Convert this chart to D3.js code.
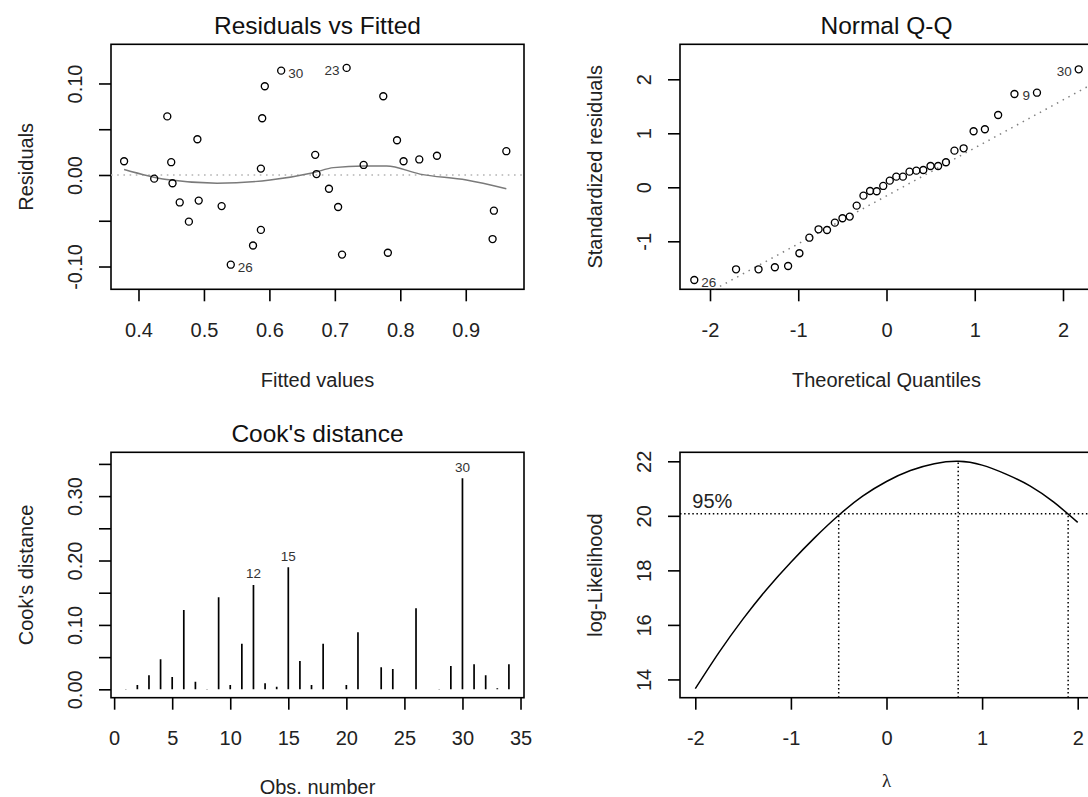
<!DOCTYPE html>
<html>
<head>
<meta charset="utf-8">
<script src="https://cdn.jsdelivr.net/npm/d3@7"></script>
<style>
  body { margin: 0; background: #fff; }
  svg { display: block; font-family: "Liberation Sans", Arial, sans-serif; }
</style>
</head>
<body>
<div id="chart"></div>
<script>
// Residuals vs Fitted
var fittedVals = [0.378, 0.424, 0.444, 0.450, 0.452, 0.463, 0.477, 0.490, 0.492, 0.527, 0.541,
  0.575, 0.587, 0.587, 0.589, 0.593, 0.618, 0.670, 0.672, 0.691, 0.705, 0.711, 0.718, 0.744,
  0.774, 0.781, 0.795, 0.805, 0.829, 0.856, 0.943, 0.941, 0.962];
var residVals = [0.015, -0.004, 0.064, 0.014, -0.009, -0.030, -0.051, 0.039, -0.028, -0.034, -0.098,
  -0.077, -0.060, 0.007, 0.062, 0.097, 0.114, 0.022, 0.001, -0.015, -0.035, -0.087, 0.117, 0.011,
  0.086, -0.085, 0.038, 0.015, 0.017, 0.021, -0.039, -0.070, 0.026];
var residLabelIdx = [10, 16, 22];
var residLabelTxt = ["26", "30", "23"];
var smoothFit = [0.378, 0.443, 0.520, 0.601, 0.667, 0.698, 0.744, 0.779, 0.830, 0.901, 0.962];
var smoothRes = [0.006, -0.005, -0.009, -0.0055, 0.0025, 0.008, 0.0098, 0.0098, 0.001, -0.0055, -0.015];

// Normal Q-Q
var theoQuant = [-2.178, -1.705, -1.450, -1.265, -1.115, -0.987, -0.874, -0.770, -0.674, -0.585,
  -0.499, -0.417, -0.338, -0.261, -0.186, -0.111, -0.037, 0.037, 0.111, 0.186, 0.261, 0.338,
  0.417, 0.499, 0.585, 0.674, 0.770, 0.874, 0.987, 1.115, 1.265, 1.450, 1.705, 2.178];
var stdResid = [-1.717, -1.519, -1.519, -1.481, -1.457, -1.222, -0.933, -0.778, -0.790, -0.655,
  -0.574, -0.543, -0.340, -0.155, -0.068, -0.074, 0.025, 0.123, 0.197, 0.197, 0.290, 0.308,
  0.321, 0.395, 0.395, 0.463, 0.679, 0.722, 1.037, 1.074, 1.339, 1.728, 1.752, 2.185];
var qqLabelIdx = [0, 32, 33];
var qqLabelTxt = ["26", "9", "30"];
var qqIntercept = -0.159, qqSlope = 0.888;

// Cook's distance, obs 1..34
var cookVals = [0.0004, 0.0067, 0.0218, 0.0466, 0.0191, 0.1232, 0.0119, 0.0004, 0.1429, 0.0067,
  0.0709, 0.1621, 0.0093, 0.0040, 0.1896, 0.0440, 0.0067, 0.0709, 0.0003, 0.0067, 0.0886, 0.0002,
  0.0342, 0.0316, 0.0003, 0.1258, 0.0002, 0.0004, 0.0362, 0.3278, 0.0388, 0.0218, 0.0016, 0.0388];
var cookLabelObs = [12, 15, 30];

// Box-Cox profile log-likelihood
var lambdaVals = [-2, -1.75, -1.5, -1.25, -1, -0.75, -0.5, -0.25, 0, 0.25, 0.5, 0.75, 1, 1.25, 1.5, 1.75, 2];
var logLik = [13.66, 15.0, 16.22, 17.32, 18.30, 19.20, 20.02, 20.72, 21.26, 21.66, 21.91, 22.0,
  21.86, 21.53, 21.10, 20.50, 19.76];
var ci95 = 20.08;
var lambdaMarks = [-0.5, 0.75, 1.9];
var lambdaBest = 0.75;

var svg = d3.select("#chart").append("svg")
  .attr("width", 1088)
  .attr("height", 797);

var leftCols = [111, 524], rightCols = [680, 1093];
var topRows = [289.3, 44.3], botRows = [697.7, 452.3];
var clipN = 0;

// R-style frame: box, outward ticks, rotated y tick labels, titles
function drawFrame(x, y, o) {
  var x0 = x.range()[0], x1 = x.range()[1];
  var y0 = y.range()[0], y1 = y.range()[1];
  var g = svg.append("g");

  var xa = g.append("g")
    .attr("transform", "translate(0," + y0 + ")")
    .call(d3.axisBottom(x).tickValues(o.xTicks).tickSize(12).tickFormat(o.xFmt));
  xa.select(".domain").remove();
  xa.attr("font-size", 20).attr("font-family", null);
  xa.selectAll("line").attr("stroke-width", 1.6);
  xa.selectAll("text").attr("y", 47.4).attr("dy", null).attr("fill", "#222");

  var ya = g.append("g")
    .attr("transform", "translate(" + x0 + ",0)")
    .call(d3.axisLeft(y).tickValues(o.yTicks).tickSize(12).tickFormat(o.yFmt));
  ya.select(".domain").remove();
  ya.attr("font-size", 20).attr("font-family", null);
  ya.selectAll("line").attr("stroke-width", 1.6);
  ya.selectAll("text")
    .attr("x", null).attr("dy", null)
    .attr("text-anchor", "middle")
    .attr("fill", "#222")
    .attr("transform", "translate(-29,0) rotate(-90)");

  g.append("rect")
    .attr("x", x0).attr("y", y1)
    .attr("width", x1 - x0).attr("height", y0 - y1)
    .attr("fill", "none").attr("stroke", "#000").attr("stroke-width", 1.6);

  g.append("text")
    .attr("x", (x0 + x1) / 2).attr("y", y1 - 10.5)
    .attr("text-anchor", "middle").attr("font-size", 24.5).attr("fill", "#111")
    .text(o.title);

  g.append("text")
    .attr("x", (x0 + x1) / 2).attr("y", Math.min(y0 + 97.7, o.xlabMaxY || 794))
    .attr("text-anchor", "middle")
    .attr("font-size", o.xlabSize || 20)
    .attr("font-family", o.xlabFont || null)
    .attr("fill", "#222")
    .text(o.xlab);

  g.append("text")
    .attr("transform", "translate(" + (x0 - 78.3) + "," + ((y0 + y1) / 2) + ") rotate(-90)")
    .attr("text-anchor", "middle").attr("font-size", 20).attr("fill", "#222")
    .text(o.ylab);

  clipN++;
  svg.append("clipPath").attr("id", "clip" + clipN)
    .append("rect")
    .attr("x", x0).attr("y", y1)
    .attr("width", x1 - x0).attr("height", y0 - y1);

  return {
    inner: g.append("g").attr("clip-path", "url(#clip" + clipN + ")"),
    outer: g
  };
}

function fmt1(d) { return d3.format(".1f")(d); }
function fmtInt(d) { return d3.format("d")(d).replace("−", "-"); }

// ---- Residuals vs Fitted ----
var x1s = d3.scaleLinear().domain([0.358, 0.989]).range(leftCols);
var y1s = d3.scaleLinear().domain([-0.1249, 0.1428]).range(topRows);
var p1 = drawFrame(x1s, y1s, {
  title: "Residuals vs Fitted", xlab: "Fitted values", ylab: "Residuals",
  xTicks: [0.4, 0.5, 0.6, 0.7, 0.8, 0.9], xFmt: fmt1,
  yTicks: [-0.10, -0.05, 0, 0.05, 0.10],
  yFmt: function(d) { return Math.abs(d) === 0.05 ? "" : d3.format(".2f")(d).replace("−", "-"); }
});

p1.inner.append("line")
  .attr("x1", leftCols[0]).attr("x2", leftCols[1])
  .attr("y1", y1s(0)).attr("y2", y1s(0))
  .attr("stroke", "#b4b4b4").attr("stroke-width", 1.6)
  .attr("stroke-dasharray", "1.6,4.6");

p1.inner.append("path")
  .datum(smoothFit.map(function(f, i) { return [f, smoothRes[i]]; }))
  .attr("fill", "none").attr("stroke", "#7a7a7a").attr("stroke-width", 1.4)
  .attr("d", d3.line()
    .x(function(d) { return x1s(d[0]); })
    .y(function(d) { return y1s(d[1]); })
    .curve(d3.curveMonotoneX));

p1.inner.selectAll(".pt")
  .data(fittedVals)
  .enter().append("circle")
  .attr("cx", function(d) { return x1s(d); })
  .attr("cy", function(d, i) { return y1s(residVals[i]); })
  .attr("r", 3.5)
  .attr("fill", "none").attr("stroke", "#000").attr("stroke-width", 1.35);

var resMid = (fittedVals[0] + fittedVals[fittedVals.length - 1]) / 2;
p1.outer.selectAll(".lab")
  .data(residLabelIdx)
  .enter().append("text")
  .attr("x", function(d) { return x1s(fittedVals[d]) + (fittedVals[d] > resMid ? -7 : 7); })
  .attr("y", function(d) { return y1s(residVals[d]) + 7; })
  .attr("text-anchor", function(d) { return fittedVals[d] > resMid ? "end" : "start"; })
  .attr("font-size", 13.5).attr("fill", "#333")
  .text(function(d, i) { return residLabelTxt[i]; });

// ---- Normal Q-Q ----
var x2s = d3.scaleLinear().domain([-2.34, 2.34]).range(rightCols);
var y2s = d3.scaleLinear().domain([-1.889, 2.648]).range(topRows);
var p2 = drawFrame(x2s, y2s, {
  title: "Normal Q-Q", xlab: "Theoretical Quantiles", ylab: "Standardized residuals",
  xTicks: [-2, -1, 0, 1, 2], xFmt: fmtInt,
  yTicks: [-1, 0, 1, 2], yFmt: fmtInt
});

p2.inner.append("line")
  .attr("x1", x2s(-2.34)).attr("x2", x2s(2.34))
  .attr("y1", y2s(qqIntercept + qqSlope * -2.34))
  .attr("y2", y2s(qqIntercept + qqSlope * 2.34))
  .attr("stroke", "#808080").attr("stroke-width", 1.5)
  .attr("stroke-dasharray", "1.5,5");

p2.inner.selectAll(".pt")
  .data(theoQuant)
  .enter().append("circle")
  .attr("cx", function(d) { return x2s(d); })
  .attr("cy", function(d, i) { return y2s(stdResid[i]); })
  .attr("r", 3.5)
  .attr("fill", "none").attr("stroke", "#000").attr("stroke-width", 1.35);

p2.outer.selectAll(".lab")
  .data(qqLabelIdx)
  .enter().append("text")
  .attr("x", function(d) { return x2s(theoQuant[d]) + (theoQuant[d] > 0 ? -7 : 7); })
  .attr("y", function(d) { return y2s(stdResid[d]) + 7; })
  .attr("text-anchor", function(d) { return theoQuant[d] > 0 ? "end" : "start"; })
  .attr("font-size", 13.5).attr("fill", "#333")
  .text(function(d, i) { return qqLabelTxt[i]; });

// ---- Cook's distance ----
var x3s = d3.scaleLinear().domain([-0.27, 35.3]).range(leftCols);
var y3s = d3.scaleLinear().domain([-0.013, 0.368]).range(botRows);
var p3 = drawFrame(x3s, y3s, {
  title: "Cook's distance", xlab: "Obs. number", ylab: "Cook's distance",
  xTicks: [0, 5, 10, 15, 20, 25, 30, 35], xFmt: fmtInt,
  yTicks: [0, 0.05, 0.10, 0.15, 0.20, 0.25, 0.30, 0.35],
  yFmt: function(d) { return [0, 0.1, 0.2, 0.3].indexOf(+d.toFixed(2)) >= 0 ? d3.format(".2f")(d) : ""; }
});

p3.inner.selectAll(".bar")
  .data(cookVals)
  .enter().append("line")
  .attr("x1", function(d, i) { return x3s(i + 1); })
  .attr("x2", function(d, i) { return x3s(i + 1); })
  .attr("y1", y3s(0))
  .attr("y2", function(d) { return y3s(d); })
  .attr("stroke", "#000").attr("stroke-width", 1.7);

p3.outer.selectAll(".lab")
  .data(cookLabelObs)
  .enter().append("text")
  .attr("x", function(d) { return x3s(d); })
  .attr("y", function(d) { return y3s(cookVals[d - 1]) - 6.5; })
  .attr("text-anchor", "middle")
  .attr("font-size", 13.5).attr("fill", "#333")
  .text(function(d) { return d; });

// ---- Box-Cox log-likelihood ----
var x4s = d3.scaleLinear().domain([-2.16, 2.16]).range(rightCols);
var y4s = d3.scaleLinear().domain([13.33, 22.33]).range(botRows);
var p4 = drawFrame(x4s, y4s, {
  title: "", xlab: "λ", ylab: "log-Likelihood",
  xlabSize: 19, xlabFont: "'Liberation Serif', serif", xlabMaxY: 787,
  xTicks: [-2, -1, 0, 1, 2], xFmt: fmtInt,
  yTicks: [14, 16, 18, 20, 22], yFmt: fmtInt
});

p4.inner.append("path")
  .datum(lambdaVals.map(function(l, i) { return [l, logLik[i]]; }))
  .attr("fill", "none").attr("stroke", "#000").attr("stroke-width", 1.5)
  .attr("d", d3.line()
    .x(function(d) { return x4s(d[0]); })
    .y(function(d) { return y4s(d[1]); })
    .curve(d3.curveNatural));

p4.inner.append("line")
  .attr("x1", rightCols[0]).attr("x2", rightCols[1])
  .attr("y1", y4s(ci95)).attr("y2", y4s(ci95))
  .attr("stroke", "#000").attr("stroke-width", 1.5)
  .attr("stroke-dasharray", "1.5,2.6");

p4.inner.selectAll(".vline")
  .data(lambdaMarks)
  .enter().append("line")
  .attr("x1", function(d) { return x4s(d); })
  .attr("x2", function(d) { return x4s(d); })
  .attr("y1", botRows[0])
  .attr("y2", function(d) { return d === lambdaBest ? y4s(d3.max(logLik)) : y4s(ci95); })
  .attr("stroke", "#000").attr("stroke-width", 1.5)
  .attr("stroke-dasharray", "1.5,2.6");

p4.outer.append("text")
  .attr("x", x4s(-2) - 3)
  .attr("y", y4s(ci95) - 6)
  .attr("font-size", 20).attr("fill", "#222")
  .text("95%");
</script>
</body>
</html>
